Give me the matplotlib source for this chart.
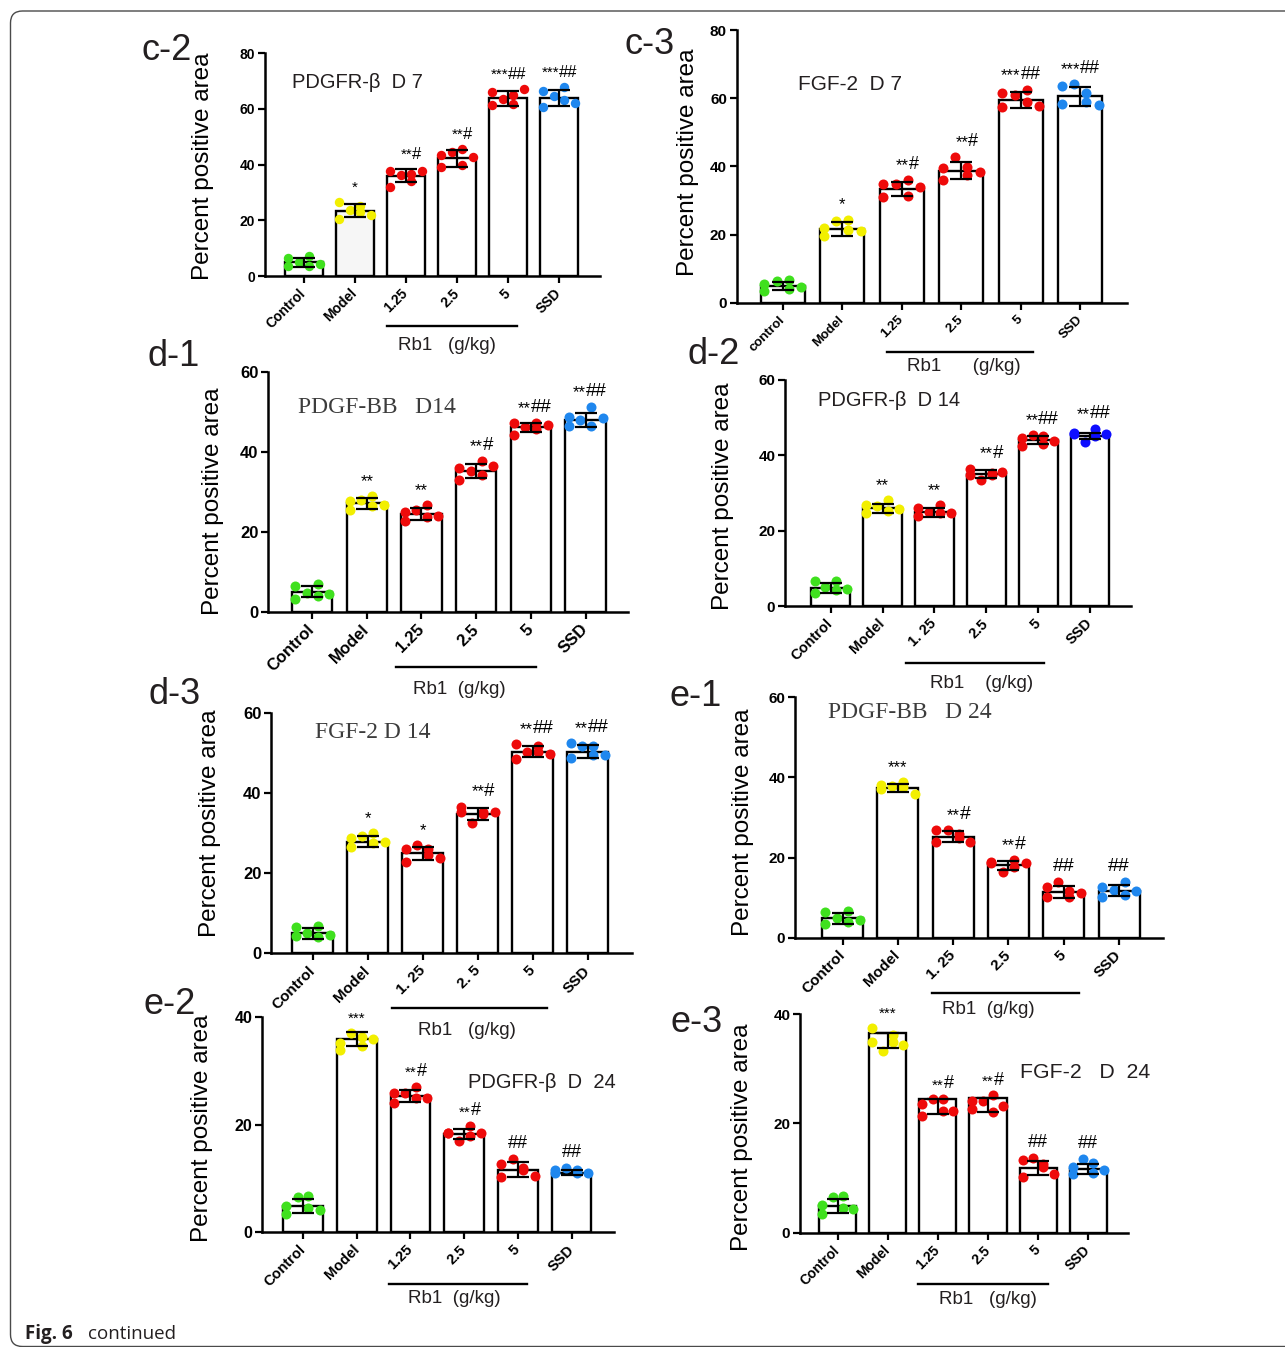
import numpy as np
import matplotlib
matplotlib.use('Agg')
import matplotlib.pyplot as plt
import matplotlib.transforms as mtransforms
from matplotlib.patches import FancyBboxPatch

plt.rcParams['font.family'] = ['Liberation Sans', 'DejaVu Sans']

W, H = 1285, 1347

# --- DATA (percent positive area, 6 animals per group) ---
labels_std = ['Control', 'Model', '1.25', '2.5', '5', 'SSD']

# c-2 : PDGFR-b, day 7
c2_labels = labels_std
c2_mean = [5.0, 23.5, 36.0, 42.3, 63.8, 64.0]
c2_sd = [1.6, 2.2, 2.4, 3.0, 2.7, 2.8]
c2_dots = [[6.6, 3.6, 4.9, 7.2, 3.7, 4.4],
           [26.7, 20.5, 23.8, 22.9, 25.1, 21.9],
           [37.8, 32.1, 36.2, 34.1, 36.8, 37.8],
           [43.6, 39.0, 44.6, 39.8, 45.7, 42.6],
           [66.2, 61.4, 63.5, 64.9, 61.7, 67.2],
           [66.6, 60.6, 64.5, 68.0, 63.2, 62.0]]
c2_marks = ['', '*', '**#', '**#', '***##', '***##']

# c-3 : FGF-2, day 7
c3_labels = ['control', 'Model', '1.25', '2.5', '5', 'SSD']
c3_mean = [4.9, 21.7, 33.4, 38.7, 59.5, 60.5]
c3_sd = [1.3, 2.1, 2.1, 2.5, 2.4, 2.7]
c3_dots = [[5.5, 3.5, 6.3, 6.8, 4.0, 4.5],
           [21.8, 19.6, 24.0, 21.3, 24.4, 21.1],
           [34.8, 31.1, 34.8, 31.3, 36.0, 34.0],
           [39.4, 36.0, 42.8, 39.7, 37.5, 38.4],
           [61.6, 57.3, 60.9, 59.0, 62.4, 57.7],
           [63.6, 58.3, 64.2, 61.5, 58.8, 57.9]]
c3_marks = ['', '*', '**#', '**#', '***##', '***##']

# d-1 : PDGF-BB, day 14
d1_labels = labels_std
d1_mean = [5.0, 27.2, 24.5, 35.3, 46.2, 48.0]
d1_sd = [1.4, 1.35, 1.45, 1.7, 1.1, 1.8]
d1_dots = [[6.5, 3.3, 4.8, 6.9, 4.0, 4.4],
           [27.7, 25.5, 28.0, 26.6, 29.0, 26.7],
           [25.1, 22.8, 25.5, 26.8, 23.8, 24.0],
           [36.0, 32.9, 35.3, 37.7, 34.3, 36.5],
           [47.4, 44.4, 46.4, 47.4, 45.9, 46.8],
           [48.7, 46.6, 48.0, 51.4, 46.6, 48.6]]
d1_marks = ['', '**', '**', '**#', '**##', '**##']

# d-2 : PDGFR-b, day 14
d2_labels = ['Control', 'Model', '1. 25', '2.5', '5', 'SSD']
d2_mean = [4.7, 25.9, 24.9, 35.0, 44.1, 45.2]
d2_sd = [1.35, 1.2, 1.25, 1.05, 1.1, 0.8]
d2_dots = [[6.7, 3.4, 5.0, 6.7, 4.2, 4.5],
           [26.8, 24.8, 26.6, 28.1, 25.3, 25.8],
           [26.1, 23.9, 24.9, 26.9, 24.8, 24.8],
           [36.5, 34.8, 33.5, 35.2, 34.8, 35.5],
           [44.7, 42.5, 45.4, 45.1, 42.9, 43.9],
           [45.6, 46.0, 43.6, 46.9, 45.0, 45.6]]
d2_marks = ['', '**', '**', '**#', '**##', '**##']

# d-3 : FGF-2, day 14
d3_labels = ['Control', 'Model', '1. 25', '2. 5', '5', 'SSD']
d3_mean = [5.0, 27.9, 25.0, 34.8, 50.4, 50.4]
d3_sd = [1.4, 1.35, 1.55, 1.45, 1.4, 1.6]
d3_dots = [[6.7, 4.4, 5.0, 6.9, 4.2, 4.6],
           [28.9, 26.7, 29.3, 27.5, 30.0, 27.9],
           [26.0, 22.9, 27.1, 24.6, 26.0, 23.75],
           [36.7, 35.4, 32.5, 35.4, 34.8, 35.4],
           [52.3, 48.5, 50.4, 50.25, 51.8, 49.8],
           [52.5, 48.75, 51.8, 49.5, 51.8, 49.5]]
d3_marks = ['', '*', '*', '**#', '**##', '**##']

# e-1 : PDGF-BB, day 24
e1_labels = ['Control', 'Model', '1. 25', '2.5', '5', 'SSD']
e1_mean = [4.8, 37.3, 25.2, 18.1, 11.5, 11.7]
e1_sd = [1.35, 1.0, 1.35, 1.15, 1.5, 1.35]
e1_dots = [[6.5, 3.4, 4.8, 6.7, 4.0, 4.4],
           [37.0, 38.1, 37.85, 37.7, 38.8, 35.9],
           [26.9, 24.0, 26.9, 24.8, 26.0, 24.0],
           [18.55, 19.0, 16.5, 19.4, 17.7, 18.55],
           [12.6, 10.2, 14.0, 11.7, 10.2, 11.1],
           [12.6, 10.2, 11.9, 13.8, 10.65, 11.6]]
e1_marks = ['', '***', '**#', '**#', '##', '##']

# e-2 : PDGFR-b, day 24
e2_labels = labels_std
e2_mean = [4.9, 35.9, 25.4, 18.3, 11.6, 11.1]
e2_sd = [1.3, 1.3, 1.15, 1.0, 1.4, 0.5]
e2_dots = [[4.9, 3.35, 6.5, 4.6, 6.8, 4.15],
           [35.3, 34.0, 37.0, 36.3, 34.7, 36.0],
           [25.9, 24.0, 26.0, 24.9, 27.0, 25.05],
           [18.5, 18.5, 16.9, 19.7, 17.9, 18.5],
           [12.65, 10.2, 13.6, 11.5, 12.0, 10.5],
           [11.1, 11.6, 12.0, 11.1, 11.6, 11.0]]
e2_marks = ['', '***', '**#', '**#', '##', '##']

# e-3 : FGF-2, day 24 (first treated groups drawn with the lower bar only)
e3_labels = labels_std
e3_mean = [4.9, 36.6, 24.4, 24.7, 11.9, 11.6]
e3_sd = [1.35, 2.9, 2.6, 2.7, 1.3, 0.9]
e3_sd_up = [1.35, 0.0, 0.0, 0.0, 1.3, 0.9]
e3_dots = [[5.06, 3.35, 6.5, 4.6, 6.8, 4.3],
           [37.4, 34.9, 33.3, 36.2, 34.8, 34.4],
           [23.5, 21.3, 24.4, 22.3, 24.4, 22.3],
           [24.0, 22.6, 24.15, 22.0, 25.1, 23.2],
           [13.3, 10.1, 13.6, 11.95, 12.6, 10.7],
           [11.95, 10.7, 13.5, 12.7, 10.85, 11.5]]
e3_marks = ['', '***', '**#', '**#', '##', '##']

# --- STYLE ---
GREEN, YELLOW, RED, BLUE, DEEPBLUE = '#3fe01e', '#f2ef00', '#ee0a0a', '#1f87ee', '#0d0dff'
COLORS = [GREEN, YELLOW, RED, RED, RED, BLUE]
OFFS = np.array([-0.31, -0.31, -0.1, 0.1, 0.1, 0.31])
INK = '#231f20'

fig = plt.figure(figsize=(W / 100, H / 100), dpi=100)


def add_axes_px(x0, x1, ytop, ybot):
    return fig.add_axes([x0 / W, 1 - ybot / H, (x1 - x0) / W, (ybot - ytop) / H])


def draw_panel(lay, labels, mean, sd_lo, sd_hi, dots, marks, colors, fills=None):
    x0, x1, ytop, ybot = lay['rect']
    ax = add_axes_px(x0, x1, ytop, ybot)
    n = len(mean)
    x = np.arange(n)
    if fills is None:
        fills = ['white'] * n

    ax.bar(x, mean, width=0.74, color=fills, edgecolor='black', linewidth=1.7, zorder=1)
    for i in range(n):
        ax.scatter(i + OFFS, dots[i], s=lay.get('dot', 52), color=colors[i],
                   linewidths=0, zorder=3, clip_on=False)
    ax.errorbar(x, mean, yerr=[sd_lo, sd_hi], fmt='none', ecolor='black',
                elinewidth=1.6, capsize=8, capthick=1.6, zorder=4)

    # significance marks
    fs_star, fs_hash = lay['mark_fs']
    for i in range(n):
        if not marks[i]:
            continue
        top = max(max(dots[i]), mean[i] + sd_hi[i])
        stars = marks[i].rstrip('#')
        hashes = marks[i][len(stars):]
        kw = dict(textcoords='offset points', va='bottom', color='black')
        if stars and hashes:
            split = i + (0.12 if len(hashes) == 1 else 0.0)
            ax.annotate(stars, (split, top), xytext=(0, 5), ha='right', fontsize=fs_star, **kw)
            ax.annotate(hashes, (split, top), xytext=(0, 5), ha='left', fontsize=fs_hash, **kw)
        else:
            fs = fs_star if stars else fs_hash
            ax.annotate(marks[i], (i, top), xytext=(0, 5), ha='center', fontsize=fs, **kw)

    ymax = lay['ymax']
    ax.set_ylim(0, ymax)
    ax.set_yticks(np.arange(0, ymax + 1, 20))
    ax.set_xlim(-lay['xpad'][0], n - 1 + lay['xpad'][1])
    ax.set_xticks(x)
    ax.set_xticklabels(labels, rotation=45, ha='right', va='center',
                       rotation_mode='anchor', fontweight='bold', fontsize=lay['fs_x'])
    for t in ax.get_yticklabels():
        t.set_fontweight('bold')
        t.set_fontsize(lay['fs_y'])
    ax.tick_params(direction='out', length=5, width=1.6, colors='black')
    ax.tick_params(axis='x', pad=6)
    ax.tick_params(axis='y', pad=2)
    for s in ['top', 'right']:
        ax.spines[s].set_visible(False)
    for s in ['left', 'bottom']:
        ax.spines[s].set_linewidth(1.8)
    ax.patch.set_alpha(0)

    # y label
    w_px, h_px = x1 - x0, ybot - ytop
    off, yc = lay['ylab']
    ax.set_ylabel('Percent positive area', fontsize=17.5, va='center', color='black')
    ax.yaxis.set_label_coords(-off / w_px, (ybot - yc) / h_px)

    # Rb1 dose bracket
    trans = mtransforms.blended_transform_factory(ax.transData, ax.transAxes)
    bx0, bx1, by = lay['rb_line']
    ax.plot([bx0, bx1], [-by / h_px] * 2, transform=trans, color='black', lw=1.7, clip_on=False)
    txt, tx, ty = lay['rb_text']
    ax.text(tx, -ty / h_px, txt, transform=trans, ha='center', va='center',
            fontsize=13.5, color=INK)

    # inset title and panel letter
    ttl, tx, ty, tfs, serif = lay['title']
    if serif:
        fig.text(tx / W, 1 - ty / H, ttl, ha='left', va='center', fontsize=tfs,
                 family='Liberation Serif', color='#3c3c3c')
    else:
        fig.text(tx / W, 1 - ty / H, ttl, ha='left', va='center', fontsize=tfs, color=INK)
    pl, px, py = lay['panel']
    fig.text(px / W, 1 - py / H, pl, ha='center', va='center', fontsize=26, color=INK)
    return ax


# --- LAYOUT (pixel positions measured on the original figure) ---
lay_c2 = dict(rect=(265, 600, 53.3, 276), xpad=(0.76, 0.8), ymax=80, fs_y=10, fs_x=10,
              mark_fs=(11, 12), ylab=(62, 166), rb_line=(1.63, 4.18, 50),
              rb_text=('Rb1   (g/kg)', 2.8, 69), title=('PDGFR-β  D 7', 292, 82, 14.5, False),
              panel=('c-2', 167, 51), dot=46)
lay_c3 = dict(rect=(736.7, 1126.7, 30, 302.7), xpad=(0.77, 0.78), ymax=80, fs_y=11, fs_x=9.5,
              mark_fs=(12, 13), ylab=(49, 162), rb_line=(1.76, 4.2, 49),
              rb_text=('Rb1      (g/kg)', 3.04, 64), title=('FGF-2  D 7', 798, 85, 15, False),
              panel=('c-3', 650, 44))
lay_d1 = dict(rect=(268.3, 628.3, 372.3, 611.7), xpad=(0.80, 0.78), ymax=60, fs_y=12, fs_x=12,
              mark_fs=(12, 13.5), ylab=(55, 501), rb_line=(1.53, 4.09, 55),
              rb_text=('Rb1  (g/kg)', 2.7, 78), title=('PDGF-BB   D14', 298, 408, 17, True),
              panel=('d-1', 174, 357))
lay_d2 = dict(rect=(785, 1130.7, 380, 606), xpad=(0.88, 0.78), ymax=60, fs_y=11, fs_x=10.5,
              mark_fs=(12, 13.5), ylab=(62, 496), rb_line=(1.45, 4.11, 57),
              rb_text=('Rb1    (g/kg)', 2.9, 77), title=('PDGFR-β  D 14', 818, 400, 14.5, False),
              panel=('d-2', 714, 355))
lay_d3 = dict(rect=(271, 631.7, 713.3, 953.3), xpad=(0.76, 0.8), ymax=60, fs_y=12, fs_x=11,
              mark_fs=(12, 13.5), ylab=(61, 823), rb_line=(1.44, 4.26, 55),
              rb_text=('Rb1   (g/kg)', 2.8, 77), title=('FGF-2 D 14', 315, 733, 17, True),
              panel=('d-3', 175, 694))
lay_e1 = dict(rect=(795, 1163.3, 697.3, 937.7), xpad=(0.86, 0.8), ymax=60, fs_y=11, fs_x=11,
              mark_fs=(12, 14), ylab=(52, 822), rb_line=(1.61, 4.28, 55),
              rb_text=('Rb1  (g/kg)', 2.63, 72), title=('PDGF-BB   D 24', 828, 713, 17, True),
              panel=('e-1', 696, 696))
lay_e2 = dict(rect=(262.3, 614, 1017.3, 1232.3), xpad=(0.76, 0.79), ymax=40, fs_y=11.5, fs_x=10.5,
              mark_fs=(11, 13), ylab=(60, 1128), rb_line=(1.6, 4.17, 52),
              rb_text=('Rb1  (g/kg)', 2.82, 66), title=('PDGFR-β  D  24', 468, 1083, 14.5, False),
              panel=('e-2', 170, 1005))
lay_e3 = dict(rect=(800, 1128.3, 1014, 1232.7), xpad=(0.75, 0.8), ymax=40, fs_y=11, fs_x=10,
              mark_fs=(11, 13), ylab=(58, 1137), rb_line=(1.6, 4.2, 51),
              rb_text=('Rb1   (g/kg)', 3.0, 67), title=('FGF-2   D  24', 1020, 1073, 15.3, False),
              panel=('e-3', 697, 1022))

draw_panel(lay_c2, c2_labels, c2_mean, c2_sd, c2_sd, c2_dots, c2_marks, COLORS,
           fills=['white', '#f6f6f6', 'white', 'white', 'white', 'white'])
draw_panel(lay_c3, c3_labels, c3_mean, c3_sd, c3_sd, c3_dots, c3_marks, COLORS)
draw_panel(lay_d1, d1_labels, d1_mean, d1_sd, d1_sd, d1_dots, d1_marks, COLORS)
draw_panel(lay_d2, d2_labels, d2_mean, d2_sd, d2_sd, d2_dots, d2_marks, COLORS[:5] + [DEEPBLUE])
draw_panel(lay_d3, d3_labels, d3_mean, d3_sd, d3_sd, d3_dots, d3_marks, COLORS)
draw_panel(lay_e1, e1_labels, e1_mean, e1_sd, e1_sd, e1_dots, e1_marks, COLORS)
draw_panel(lay_e2, e2_labels, e2_mean, e2_sd, e2_sd, e2_dots, e2_marks, COLORS)
draw_panel(lay_e3, e3_labels, e3_mean, e3_sd, e3_sd_up, e3_dots, e3_marks, COLORS)

# page frame with rounded corners (only left / top edges are inside the image)
frame = FancyBboxPatch((10.5, 0.5), 1400, H - 11.5, boxstyle='round,pad=0,rounding_size=12',
                       transform=mtransforms.IdentityTransform(), fill=False,
                       edgecolor='#4a4a4a', linewidth=1.0)
fig.add_artist(frame)

fig.text(25 / W, 1 - 1334 / H, 'Fig. 6', family=['Open Sans', 'DejaVu Sans'],
         fontweight='bold', fontsize=13.5, color=INK, va='center')
fig.text(88 / W, 1 - 1334 / H, 'continued', family=['Open Sans', 'DejaVu Sans'],
         fontsize=13.5, color=INK, va='center')

fig.savefig('out.png', dpi=100, facecolor='white')
